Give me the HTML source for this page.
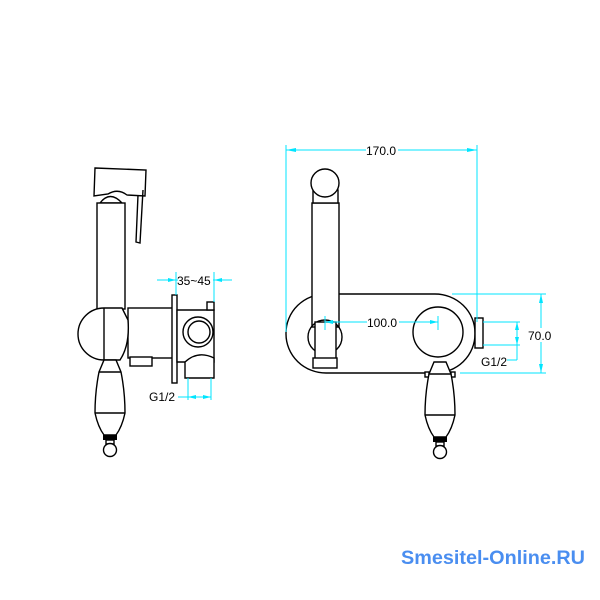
<!DOCTYPE html>
<html><head><style>
html,body{margin:0;padding:0;background:#fff;}
svg{display:block;}
.k{fill:#fff;stroke:#000;stroke-width:1.4;}
.n{fill:none;stroke:#000;stroke-width:1.4;}
.c{fill:none;stroke:#00e5ff;stroke-width:1;}
.ca{fill:#00e5ff;stroke:none;}
.t{font-family:"Liberation Sans",sans-serif;font-size:12px;fill:#000;}
</style></head><body>
<svg width="600" height="600" viewBox="0 0 600 600" xmlns="http://www.w3.org/2000/svg">
<defs>
<g id="handle">
  <path class="k" d="M-6,-12 L6,-12 L11,0 Q15,20 15,41 Q12,55 6,63 L-6,63 Q-12,55 -15,41 Q-15,20 -11,0 Z"/>
  <line class="n" x1="-11" y1="0" x2="11" y2="0"/>
  <line class="n" x1="-15" y1="41" x2="15" y2="41"/>
  <rect x="-7" y="63" width="14" height="5" fill="#000"/>
  <rect class="k" x="-4" y="68" width="8" height="4"/>
  <circle class="k" cx="0" cy="78" r="6.5"/>
</g>
</defs>

<!-- LEFT VIEW -->
<path class="k" d="M95,168 L146,170 L145,196 L127,195 Q118,188 108,194 L94,196 Z"/>
<path class="n" d="M143,190 L140,243 L136,242 L138,195"/>
<path class="k" d="M100,203 Q110,190 122,203 Z"/>
<rect class="k" x="97" y="203" width="28" height="106"/>
<rect class="k" x="128" y="308" width="46" height="50"/>
<rect class="k" x="130" y="357" width="22" height="9"/>
<path class="k" d="M104,308 A26,26 0 0 0 104,360 L120,360 Q130,345 128,320 L122,308 Z"/>
<path class="n" d="M104,308 L104,360"/>
<rect class="k" x="172" y="295" width="5" height="88"/>
<path class="k" d="M177,310 L214,310 L214,362 L177,362 Z"/>
<rect class="k" x="207" y="302" width="7" height="8"/>
<circle class="k" cx="198" cy="332" r="15"/>
<circle class="n" cx="199" cy="332" r="11"/>
<path class="k" d="M185,378 L185,362 Q198,350 214,358 L214,378 Z"/>
<use href="#handle" x="110" y="372"/>

<!-- dims left -->
<line class="c" x1="157" y1="280" x2="232" y2="280"/>
<line class="c" x1="176" y1="272" x2="176" y2="295"/>
<line class="c" x1="214" y1="272" x2="214" y2="302"/>
<polygon class="ca" points="176,280 168,278 168,282"/>
<polygon class="ca" points="214,280 222,278 222,282"/>
<rect x="178" y="273" width="35" height="13" fill="#fff"/>
<text class="t" x="177" y="285">35~45</text>
<line class="c" x1="188" y1="378" x2="188" y2="400"/>
<line class="c" x1="211" y1="378" x2="211" y2="400"/>
<line class="c" x1="178" y1="397" x2="211" y2="397"/>
<polygon class="ca" points="188,397 196,395 196,399"/>
<polygon class="ca" points="211,397 203,395 203,399"/>
<text class="t" x="149" y="401">G1/2</text>

<!-- RIGHT VIEW -->
<rect class="k" x="286" y="294" width="189" height="79" rx="40" ry="39"/>
<rect class="k" x="312" y="203" width="27" height="124"/>
<rect class="k" x="313" y="190" width="25" height="13"/>
<circle class="k" cx="325" cy="183" r="14"/>
<circle class="n" cx="325" cy="337" r="17"/>
<rect class="k" x="315" y="322" width="21" height="38"/>
<rect class="k" x="313" y="358" width="24" height="10"/>
<rect class="k" x="475" y="318" width="8" height="30"/>
<circle class="k" cx="438" cy="332" r="25"/>
<rect class="k" x="425" y="372" width="4" height="5"/>
<rect class="k" x="451" y="372" width="4" height="5"/>
<use href="#handle" x="440" y="374"/>

<!-- dims right -->
<line class="c" x1="286" y1="150" x2="477" y2="150"/>
<line class="c" x1="286" y1="145" x2="286" y2="332"/>
<line class="c" x1="477" y1="145" x2="477" y2="322"/>
<polygon class="ca" points="286,150 296,148 296,152"/>
<polygon class="ca" points="477,150 467,148 467,152"/>
<rect x="366" y="144" width="32" height="13" fill="#fff"/>
<text class="t" x="366" y="155">170.0</text>

<line class="c" x1="325" y1="322" x2="438" y2="322"/>
<line class="c" x1="325" y1="316" x2="325" y2="330"/>
<line class="c" x1="438" y1="316" x2="438" y2="330"/>
<polygon class="ca" points="325,322 333,320 333,324"/>
<polygon class="ca" points="438,322 430,320 430,324"/>
<rect x="367" y="316" width="32" height="13" fill="#fff"/>
<text class="t" x="367" y="327">100.0</text>

<line class="c" x1="452" y1="294" x2="546" y2="294"/>
<line class="c" x1="460" y1="373" x2="546" y2="373"/>
<line class="c" x1="541" y1="294" x2="541" y2="373"/>
<polygon class="ca" points="541,294 539,303 543,303"/>
<polygon class="ca" points="541,373 539,364 543,364"/>
<rect x="528" y="328" width="26" height="14" fill="#fff"/>
<text class="t" x="528" y="340">70.0</text>

<line class="c" x1="483" y1="322" x2="520" y2="322"/>
<line class="c" x1="483" y1="345" x2="520" y2="345"/>
<line class="c" x1="517" y1="322" x2="517" y2="360"/>
<line class="c" x1="507" y1="360" x2="517" y2="360"/>
<polygon class="ca" points="517,322 515,330 519,330"/>
<polygon class="ca" points="517,345 515,337 519,337"/>
<text class="t" x="481" y="366">G1/2</text>

<text x="401" y="564" font-family="'Liberation Sans',sans-serif" font-weight="bold" font-size="19" fill="#4a8ef0" textLength="184" lengthAdjust="spacingAndGlyphs">Smesitel-Online.RU</text>
</svg>
</body></html>
